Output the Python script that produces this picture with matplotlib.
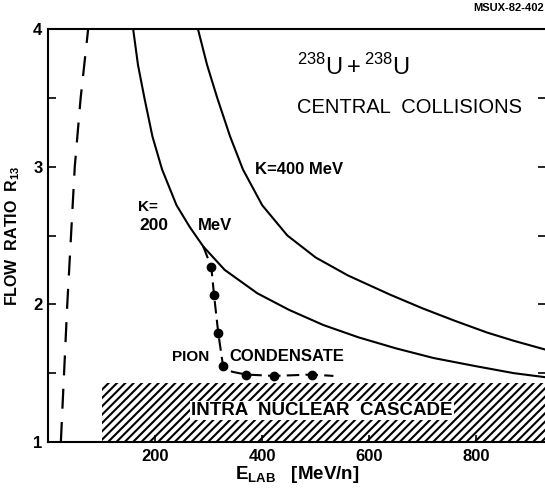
import matplotlib
matplotlib.use('Agg')
from matplotlib import pyplot as plt
from matplotlib.patches import Rectangle

plt.rcParams['font.family'] = ['Liberation Sans', 'DejaVu Sans']
plt.rcParams['mathtext.fontset'] = 'custom'
plt.rcParams['mathtext.rm'] = 'Liberation Sans'
plt.rcParams['mathtext.bf'] = 'Liberation Sans:bold'
plt.rcParams['hatch.linewidth'] = 1.5

# K = 200 MeV curve
e_k200 = [159, 168, 180, 195, 213, 240, 265, 290, 330, 391, 450, 514, 580, 650, 720, 800, 870, 930]
r_k200 = [4.0, 3.74, 3.5, 3.22, 2.98, 2.72, 2.56, 2.42, 2.25, 2.08, 1.96, 1.85, 1.76, 1.68, 1.61, 1.55, 1.50, 1.47]
# K = 400 MeV curve
e_k400 = [280, 297, 316, 340, 364, 400, 447, 500, 560, 639, 700, 760, 820, 870, 930]
r_k400 = [4.0, 3.74, 3.5, 3.22, 2.98, 2.72, 2.50, 2.34, 2.21, 2.07, 1.97, 1.88, 1.795, 1.735, 1.67]
# left dashed curve
e_dash = [24, 30, 36, 43, 50, 61, 75]
r_dash = [1.0, 1.5, 2.0, 2.5, 3.0, 3.5, 4.0]
# pion condensate line and its dots
e_pion = [290, 305, 310, 318, 327, 344, 370, 422, 493, 533]
r_pion = [2.42, 2.27, 2.07, 1.79, 1.55, 1.51, 1.49, 1.48, 1.49, 1.48]
e_dots = [305, 310, 318, 327, 370, 422, 493]
r_dots = [2.27, 2.07, 1.79, 1.55, 1.49, 1.48, 1.49]
# intra nuclear cascade band
cascade_e0 = 100
cascade_top = 1.43

fig = plt.figure(figsize=(5.45, 4.9), dpi=100)
ax = fig.add_axes([48 / 545, 48 / 490, 498 / 545, 413 / 490])
ax.set_xlim(0, 930)
ax.set_ylim(1, 4)

ax.plot(e_k200, r_k200, color='black', lw=1.5)
ax.plot(e_k400, r_k400, color='black', lw=1.5)
ax.plot(e_dash, r_dash, color='black', lw=1.6, linestyle=(0, (9, 6)))
ax.plot(e_pion, r_pion, color='black', lw=1.5, linestyle=(0, (6, 3)))
ax.plot(e_dots, r_dots, 'o', color='black', ms=6)

ax.add_patch(Rectangle((cascade_e0, 1), 930 - cascade_e0, cascade_top - 1,
                       facecolor='white', edgecolor='black', hatch='////', lw=0))
ax.text(512, 1.23, 'INTRA  NUCLEAR  CASCADE', ha='center', va='center',
        fontsize=13.5, fontweight='bold',
        bbox=dict(facecolor='white', edgecolor='none', pad=1))

ax.text(465, 3.67, r'$^{238}$U$\,$+$\,^{238}$U', fontsize=17, va='baseline')
ax.text(465, 3.43, 'CENTRAL  COLLISIONS', fontsize=14.5, va='center')
ax.text(387, 2.98, 'K=400 MeV', fontsize=12, fontweight='bold', va='center')
ax.text(168, 2.71, 'K=', fontsize=11, fontweight='bold', va='center')
ax.text(170, 2.57, '200', fontsize=12.5, fontweight='bold', va='center')
ax.text(280, 2.57, 'MeV', fontsize=12, fontweight='bold', va='center')
ax.text(232, 1.62, 'PION', fontsize=11, fontweight='bold', va='center')
ax.text(338, 1.62, 'CONDENSATE', fontsize=12, fontweight='bold', va='center')

fig.text(0.999, 0.984, 'MSUX-82-402', ha='right', va='center',
         fontsize=8, fontweight='bold')

ax.spines['right'].set_visible(False)
for s in ['left', 'bottom', 'top']:
    ax.spines[s].set_linewidth(1.5)

ax.set_xticks([200, 400, 600, 800])
ax.set_yticks([1, 2, 3, 4])
ax.set_yticks([1.5, 2.5, 3.5], minor=True)
ax.tick_params(axis='x', direction='in', length=5, width=1.2, labelsize=12, pad=5)
ax.tick_params(axis='y', which='both', direction='in', length=6, width=1.2,
               labelsize=12, right=True, pad=4)
for lab in ax.get_xticklabels() + ax.get_yticklabels():
    lab.set_fontweight('bold')

ax.set_xlabel(r'$\mathbf{E_{LAB}}$   [MeV/n]', fontsize=13.5, fontweight='bold', labelpad=0)
ax.set_ylabel(r'FLOW  RATIO  $\mathbf{R_{13}}$', fontsize=11.5, fontweight='bold', labelpad=8)

fig.savefig('out.png', dpi=100)
